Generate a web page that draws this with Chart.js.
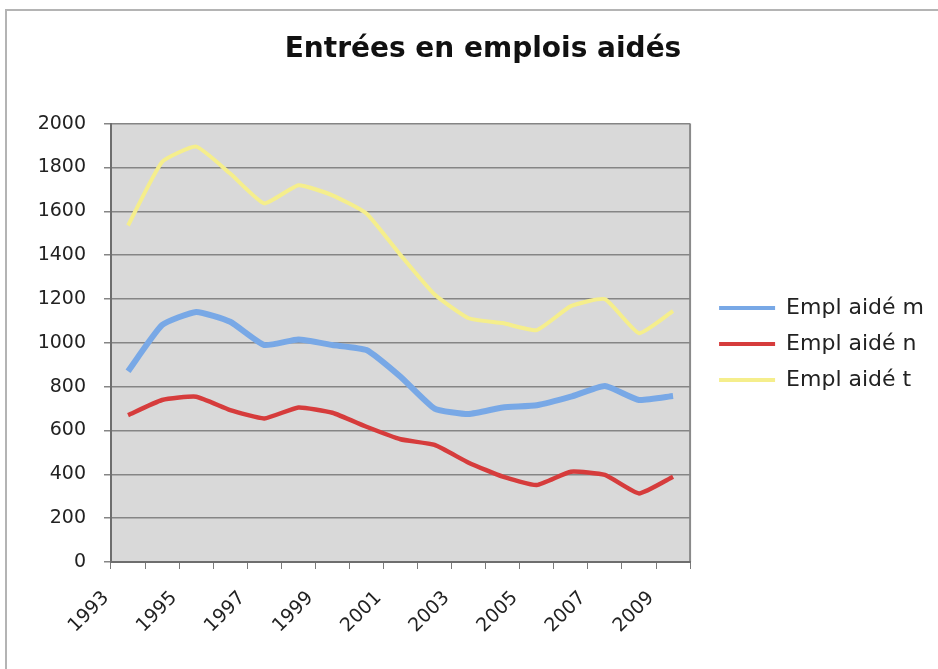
<!DOCTYPE html>
<html>
<head>
<meta charset="utf-8">
<script src="https://cdn.jsdelivr.net/npm/chart.js@4/dist/chart.umd.min.js"></script>
<style>
    body { margin: 0; background: #fff; }
    #wrap { position: relative; width: 938px; height: 669px; overflow: hidden; }
    #frame { position: absolute; left: 5px; top: 9px; width: 960px; height: 700px; border: 2px solid #b4b4b4; }
    canvas { position: absolute; left: 0; top: 0; }
</style>
</head>
<body>
<div id="wrap">
    <div id="frame"></div>
    <canvas id="chart" width="938" height="669"></canvas>
</div>
<script>
const years = ['1993', '1994', '1995', '1996', '1997', '1998', '1999', '2000', '2001',
    '2002', '2003', '2004', '2005', '2006', '2007', '2008', '2009'];
const emplAideM = [870, 1081, 1141, 1096, 990, 1015, 990, 967, 845, 700, 675, 705, 715, 754, 803, 739, 757];
const emplAideN = [670, 739, 754, 693, 655, 705, 681, 617, 560, 534, 453, 389, 351, 412, 397, 313, 389];
const emplAideT = [1535, 1825, 1895, 1772, 1636, 1719, 1673, 1590, 1400, 1220, 1112, 1090, 1058, 1167, 1199, 1044, 1145];

const font = 'DejaVu Sans, Verdana, sans-serif';

// grey plot area + right border, like the spreadsheet chart
const plotBackground = {
    id: 'plotBackground',
    beforeDraw(chart) {
        const { ctx, chartArea: a } = chart;
        ctx.save();
        ctx.fillStyle = '#d9d9d9';
        ctx.fillRect(a.left, a.top, a.right - a.left, a.bottom - a.top);
        ctx.strokeStyle = '#8a8a8a';
        ctx.lineWidth = 2;
        ctx.beginPath();
        ctx.moveTo(a.right, a.top);
        ctx.lineTo(a.right, a.bottom);
        ctx.stroke();
        ctx.restore();
    }
};

const ctx = document.getElementById('chart').getContext('2d');
new Chart(ctx, {
    type: 'line',
    data: {
        labels: years,
        datasets: [{
            label: 'Empl aidé m',
            data: emplAideM,
            borderColor: '#78a8e6',
            backgroundColor: '#78a8e6',
            borderWidth: 6
        }, {
            label: 'Empl aidé n',
            data: emplAideN,
            borderColor: '#d63c3c',
            backgroundColor: '#d63c3c',
            borderWidth: 4.5
        }, {
            label: 'Empl aidé t',
            data: emplAideT,
            borderColor: '#f5ee8c',
            backgroundColor: '#f5ee8c',
            borderWidth: 4
        }]
    },
    options: {
        responsive: false,
        animation: false,
        elements: {
            point: { radius: 0 },
            line: { tension: 0.15, fill: false }
        },
        layout: {
            padding: { left: 32, right: 4, top: 0, bottom: 5 }
        },
        plugins: {
            title: {
                display: true,
                text: 'Entrées en emplois aidés',
                color: '#111',
                font: { family: font, size: 28, weight: 'bold' },
                padding: { top: 33, bottom: 57 }
            },
            legend: {
                position: 'right',
                maxWidth: 300,
                // empty title only pushes the items down a little
                title: { display: true, text: '', padding: 0, font: { size: 20 } },
                labels: {
                    color: '#222',
                    font: { family: font, size: 22 },
                    boxWidth: 56,
                    boxHeight: 4,
                    padding: 14,
                    generateLabels: (chart) => Chart.defaults.plugins.legend.labels.generateLabels(chart)
                        .map(item => ({ ...item, lineWidth: 0 }))
                }
            },
            tooltip: { enabled: false }
        },
        scales: {
            x: {
                offset: true,
                grid: {
                    drawOnChartArea: false,
                    offset: true,
                    tickLength: 7,
                    color: '#7a7a7a'
                },
                border: { color: '#6e6e6e', width: 2 },
                ticks: {
                    autoSkip: false,
                    minRotation: 45,
                    maxRotation: 45,
                    padding: 18,
                    labelOffset: -22,
                    color: '#222',
                    font: { family: font, size: 19 },
                    callback: (v, i) => i % 2 === 0 ? years[i] : ''
                },
                afterFit: (s) => { s.height = 102; }
            },
            y: {
                min: 0,
                max: 2000,
                ticks: {
                    stepSize: 200,
                    color: '#222',
                    padding: 18,
                    font: { family: font, size: 19 },
                    callback: (v) => String(v)
                },
                grid: {
                    color: '#858585',
                    lineWidth: 1.5,
                    tickLength: 7
                },
                border: { color: '#6e6e6e', width: 2 },
                afterFit: (s) => { s.width = 79; }
            },
            gap: {
                type: 'linear',
                position: 'right',
                grid: { display: false },
                border: { display: false },
                ticks: { display: false },
                afterFit: (s) => { s.width = 15; }
            }
        }
    },
    plugins: [plotBackground]
});
</script>
</body>
</html>
